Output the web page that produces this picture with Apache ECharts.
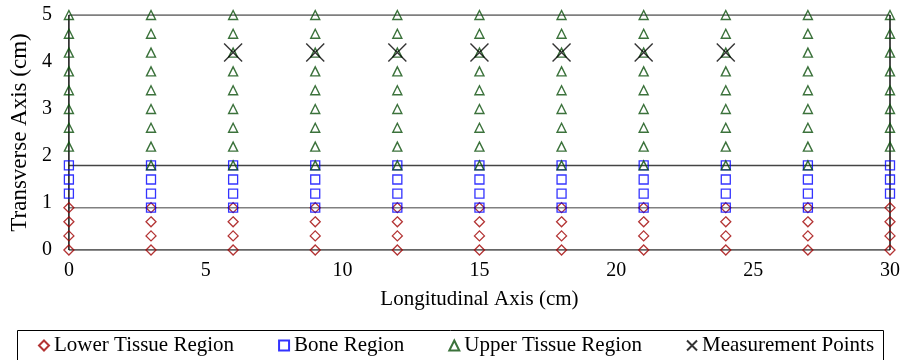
<!DOCTYPE html>
<html>
<head>
<meta charset="utf-8">
<script src="https://cdn.jsdelivr.net/npm/echarts@6/dist/echarts.min.js"></script>
<style>
html,body{margin:0;padding:0;background:#fff;}
#chart{width:906px;height:360px;}
</style>
</head>
<body>
<div id="chart"></div>
<script>
// Node columns along the longitudinal axis (cm)
const columnsX = [0, 3, 6, 9, 12, 15, 18, 21, 24, 27, 30];
const edgeColumnsX = [0, 30];
const innerColumnsX = [3, 6, 9, 12, 15, 18, 21, 24, 27];

// Transverse positions of nodes in each region (cm)
const lowerY = [0, 0.3, 0.6, 0.9];
const boneInnerY = [0.9, 1.2, 1.5, 1.8];
const boneEdgeY = [1.2, 1.5, 1.8];
const upperInnerY = [1.8, 2.2, 2.6, 3.0, 3.4, 3.8, 4.2, 4.6, 5.0];
const upperEdgeY = [2.2, 2.6, 3.0, 3.4, 3.8, 4.2, 4.6, 5.0];

// Measurement locations
const measureX = [6, 9, 12, 15, 18, 21, 24];
const measureY = [4.2];

// Region boundaries
const boundaryY = [0, 0.9, 1.8, 5];
const boundaryX = [0, 30];
const xRange = [0, 30];
const yRange = [0, 5];

function grid(xs, ys) {
  const out = [];
  xs.forEach(x => ys.forEach(y => out.push([x, y])));
  return out;
}

const lowerPts = grid(columnsX, lowerY);
const bonePts = grid(edgeColumnsX, boneEdgeY).concat(grid(innerColumnsX, boneInnerY));
const upperPts = grid(edgeColumnsX, upperEdgeY).concat(grid(innerColumnsX, upperInnerY));
const measurePts = grid(measureX, measureY);

const font = 'Liberation Serif';
const lineColors = {0: '#333333', 0.9: '#808080', 1.8: '#444444', 5: '#555555'};

const boundarySeries = boundaryY.map(y => ({
  type: 'line', silent: true, symbol: 'none', z: 1,
  data: [[xRange[0], y], [xRange[1], y]],
  lineStyle: {color: lineColors[y], width: 1.5}
})).concat(boundaryX.map(x => ({
  type: 'line', silent: true, symbol: 'none', z: 1,
  data: [[x, yRange[0]], [x, yRange[1]]],
  lineStyle: {color: '#111111', width: 1.5}
})));

const xPath = 'path://M0,0L10,10M10,0L0,10';

const chart = echarts.init(document.getElementById('chart'));
chart.setOption({
  animation: false,
  textStyle: {fontFamily: font},
  grid: {left: 68, right: 16, top: 15, bottom: 110},
  xAxis: {
    type: 'value', min: 0, max: 30, interval: 5,
    name: 'Longitudinal Axis (cm)', nameLocation: 'middle', nameGap: 39,
    nameTextStyle: {fontFamily: font, fontSize: 21, color: '#000'},
    axisLine: {show: false}, axisTick: {show: false}, splitLine: {show: false},
    axisLabel: {fontFamily: font, fontSize: 20, color: '#000', margin: 11}
  },
  yAxis: {
    type: 'value', min: 0, max: 5, interval: 1,
    name: 'Transverse Axis (cm)', nameLocation: 'middle', nameGap: 30,
    nameTextStyle: {fontFamily: font, fontSize: 23, color: '#000'},
    axisLine: {show: false}, axisTick: {show: false}, splitLine: {show: false},
    axisLabel: {fontFamily: font, fontSize: 20, color: '#000', margin: 17}
  },
  legend: {
    top: 335, left: 38, padding: 0,
    itemWidth: 10, itemHeight: 10, itemGap: 44,
    textStyle: {fontFamily: font, fontSize: 21, color: '#000'},
    data: ['Lower Tissue Region', 'Bone Region', 'Upper Tissue Region', 'Measurement Points']
  },
  graphic: [{
    type: 'rect', shape: {x: 17.5, y: 330.5, width: 866, height: 40},
    style: {fill: 'none', stroke: '#000', lineWidth: 1}, silent: true
  }],
  series: boundarySeries.concat([
    {
      name: 'Lower Tissue Region', type: 'scatter', symbol: 'diamond', symbolSize: 10, z: 3,
      data: lowerPts,
      itemStyle: {color: 'rgba(0,0,0,0)', borderColor: '#a00000', borderWidth: 1.3}
    },
    {
      name: 'Bone Region', type: 'scatter', symbol: 'rect', symbolSize: 9, z: 4,
      data: bonePts,
      itemStyle: {color: 'rgba(0,0,0,0)', borderColor: '#0000ff', borderWidth: 1.3}
    },
    {
      name: 'Upper Tissue Region', type: 'scatter', symbol: 'triangle', symbolSize: 9, z: 5,
      data: upperPts,
      itemStyle: {color: 'rgba(0,0,0,0)', borderColor: '#0a4f0a', borderWidth: 1.4}
    },
    {
      name: 'Measurement Points', type: 'scatter', symbol: xPath, symbolSize: 18, z: 6,
      data: measurePts,
      itemStyle: {color: 'rgba(0,0,0,0)', borderColor: '#000', borderWidth: 1.4}
    }
  ])
});
</script>
</body>
</html>
